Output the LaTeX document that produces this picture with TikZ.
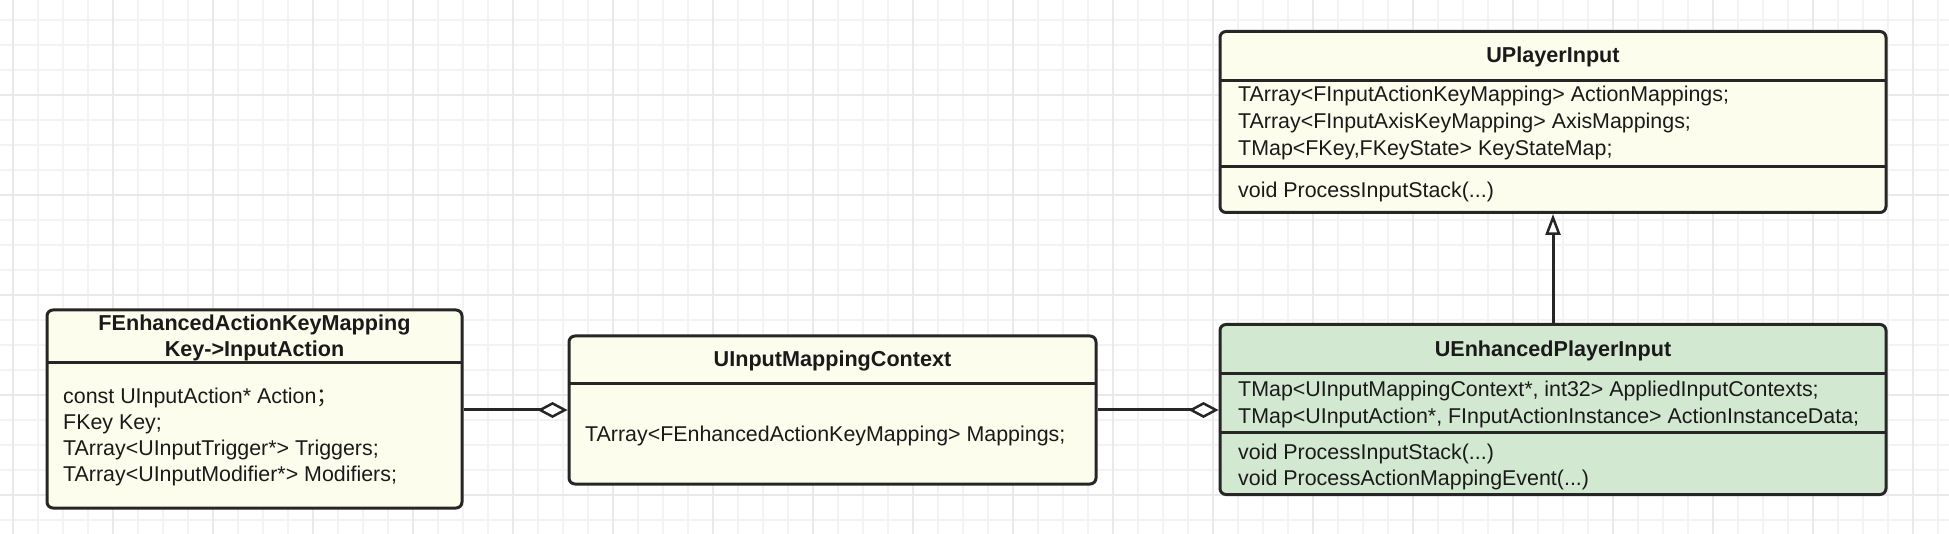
\documentclass[tikz,border=0pt]{standalone}
\usepackage{fontspec}
\setmainfont{Liberation Sans}
\newfontfamily\cjkfont{Noto Sans CJK SC}
\usetikzlibrary{arrows.meta}
\definecolor{cream}{HTML}{FDFDEE}
\definecolor{mint}{HTML}{D3E8D1}
\definecolor{edge}{HTML}{262626}
\definecolor{gridmin}{HTML}{F3F3F3}
\definecolor{gridmaj}{HTML}{E9E9E9}
\definecolor{ink}{HTML}{1A1A1A}
\tikzset{
  classbox/.style={draw=edge, line width=3pt, rounded corners=6pt, inner sep=0pt},
  divider/.style={draw=edge, line width=3pt},
  classtitle/.style={font=\fontsize{21.6}{25}\selectfont\bfseries, text=ink, anchor=base, inner sep=0pt},
  member/.style={font=\fontsize{21.4}{25}\selectfont, text=ink, anchor=base west, inner sep=0pt},
  conn/.style={draw=edge, line width=3pt},
  gminor/.style={draw=gridmin, line width=1.1pt},
  gmajor/.style={draw=gridmaj, line width=1.5pt},
}
\begin{document}
\begin{tikzpicture}[x=1pt,y=-1pt]
\useasboundingbox (0,0) rectangle (1949,534);
\fill[white] (0,0) rectangle (1949,534);
% grid
\foreach \gx in {13,38,...,1938} \draw[gminor] (\gx,0) -- (\gx,534);
\foreach \gy in {20,45,...,520} \draw[gminor] (0,\gy) -- (1949,\gy);
\foreach \gx in {13,113,...,1913} \draw[gmajor] (\gx,0) -- (\gx,534);
\foreach \gy in {95,195,...,495} \draw[gmajor] (0,\gy) -- (1949,\gy);

% FEnhancedActionKeyMapping
\node[classbox, fill=cream, minimum width=415pt, minimum height=198pt] (fenh) at (254.5,409) {};
\draw[divider] (47,363) -- (462,363);
\node[classtitle] (fenhT1) at (254.5,331) {FEnhancedActionKeyMapping};
\node[classtitle] (fenhT2) at (254.5,357) {Key->InputAction};
\node[member] (fenhA1) at (63,403) {const UInputAction* Action{\cjkfont ；}};
\node[member] (fenhA2) at (63,429) {FKey Key;};
\node[member] (fenhA3) at (63,455) {TArray<UInputTrigger*> Triggers;};
\node[member] (fenhA4) at (63,481) {TArray<UInputModifier*> Modifiers;};

% UInputMappingContext
\node[classbox, fill=cream, minimum width=527pt, minimum height=148pt] (imc) at (832.5,410) {};
\draw[divider] (569,384) -- (1096,384);
\node[classtitle] (imcT) at (832.5,367) {UInputMappingContext};
\node[member] (imcA1) at (585,441) {TArray<FEnhancedActionKeyMapping> Mappings;};

% UPlayerInput
\node[classbox, fill=cream, minimum width=666pt, minimum height=181pt] (upi) at (1553,122) {};
\draw[divider] (1220,81) -- (1886,81);
\draw[divider] (1220,167) -- (1886,167);
\node[classtitle] (upiT) at (1553,63) {UPlayerInput};
\node[member] (upiA1) at (1238,102) {TArray<FInputActionKeyMapping> ActionMappings;};
\node[member] (upiA2) at (1238,129) {TArray<FInputAxisKeyMapping> AxisMappings;};
\node[member] (upiA3) at (1238,156) {TMap<FKey,FKeyState> KeyStateMap;};
\node[member] (upiM1) at (1238,198) {void ProcessInputStack(...)};

% UEnhancedPlayerInput
\node[classbox, fill=mint, minimum width=666pt, minimum height=170pt] (epi) at (1553,409.5) {};
\draw[divider] (1220,374) -- (1886,374);
\draw[divider] (1220,432) -- (1886,432);
\node[classtitle] (epiT) at (1553,357) {UEnhancedPlayerInput};
\node[member] (epiA1) at (1238,396) {TMap<UInputMappingContext*, int32> AppliedInputContexts;};
\node[member] (epiA2) at (1238,423) {TMap<UInputAction*, FInputActionInstance> ActionInstanceData;};
\node[member] (epiM1) at (1238,459) {void ProcessInputStack(...)};
\node[member] (epiM2) at (1238,485) {void ProcessActionMappingEvent(...)};

% connectors
\draw[conn, -{Diamond[fill=white, length=30pt, width=16pt, line width=2.5pt]}] (fenh.east |- imc.west) -- (imc.west);
\draw[conn, -{Diamond[fill=white, length=30pt, width=16pt, line width=2.5pt]}] (imc.east) -- (epi.west |- imc.east);
\draw[conn, -{Triangle[fill=white, length=21pt, width=15pt, line width=2.5pt]}] (epi.north) -- (upi.south);
\end{tikzpicture}
\end{document}
